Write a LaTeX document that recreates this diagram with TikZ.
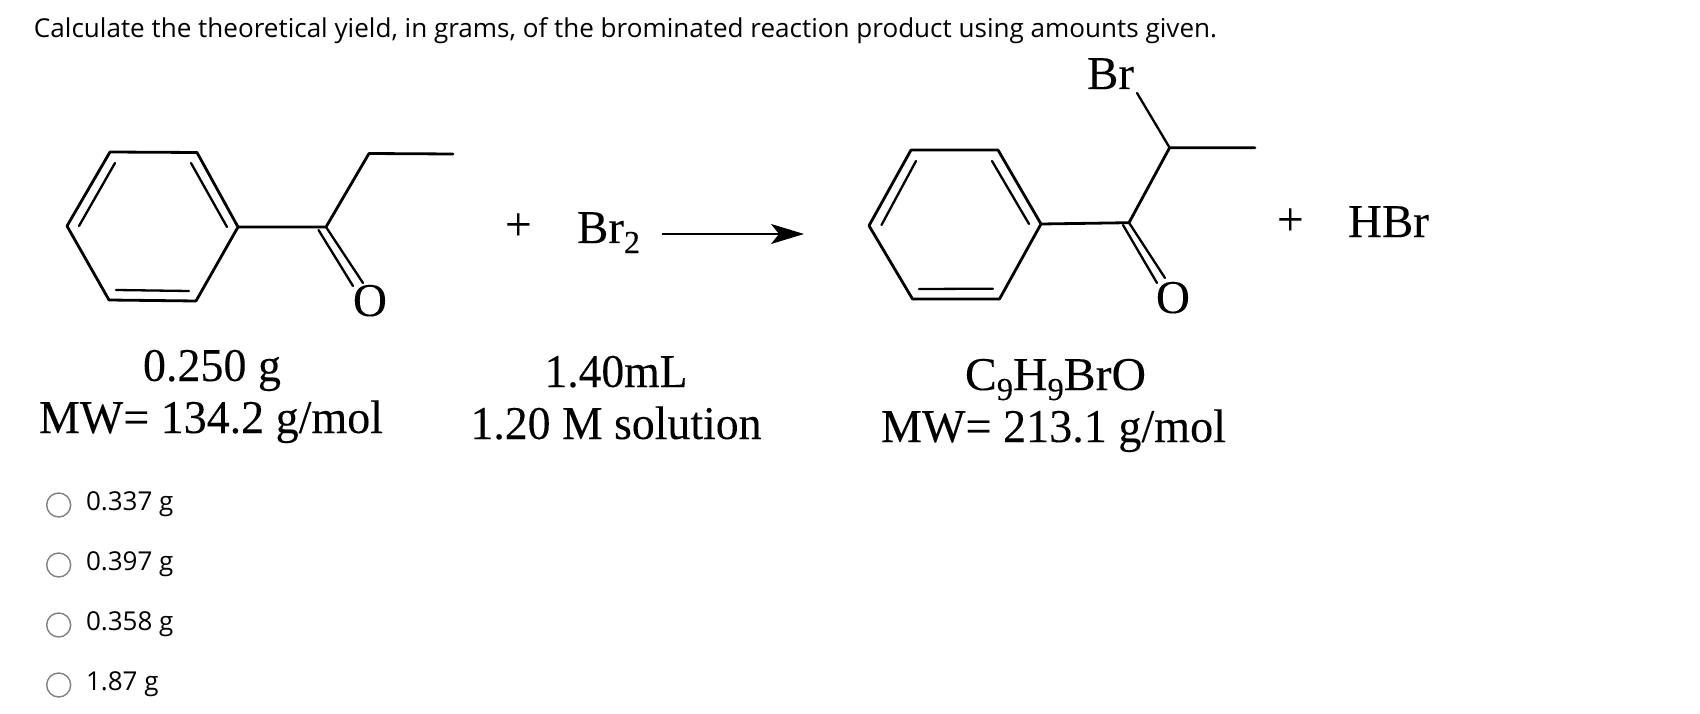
\documentclass[tikz,border=0pt]{standalone}
\usepackage{fontspec}
\usepackage{graphicx}
\usetikzlibrary{arrows.meta}
\setmainfont[FakeBold=0.12]{Liberation Serif}
\newfontfamily\uifont{Open Sans}
\newcommand{\wide}[2]{\resizebox{#1pt}{\height}{#2}}
\newcommand{\subn}[1]{\raisebox{-10pt}{\fontsize{32}{32}\selectfont #1}}
\tikzset{
  serifText/.style={inner sep=0pt,outer sep=0pt,anchor=base west,font=\fontsize{47}{50}\selectfont,text=black},
  uiText/.style={inner sep=0pt,outer sep=0pt,anchor=base west,font=\uifont\fontsize{26}{30}\selectfont,text=black},
  bond/.style={line width=2.8pt,black,line cap=round,line join=round},
  inner bond/.style={line width=2.3pt,black,line cap=round},
  radio/.style={circle,draw=black!50,line width=1.4pt,fill=white,minimum size=24pt,inner sep=0pt},
  rxn arrow/.style={line width=1.6pt,-{Stealth[length=33pt,width=20pt,inset=8pt]}}
}
\begin{document}
\begin{tikzpicture}[x=1pt,y=-1pt]
\useasboundingbox (0,0) rectangle (1700,714);
% question
\node[uiText] (title) at (34,38) {\wide{1183}{Calculate the theoretical yield, in grams, of the brominated reaction product using amounts given.}};
% left molecule
\coordinate (a1) at (67,226); \coordinate (a2) at (110,152); \coordinate (a3) at (197,152.5);
\coordinate (a4) at (238,227); \coordinate (a5) at (196,301); \coordinate (a6) at (109,300);
\coordinate (ac) at (326,227); \coordinate (ach) at (369,153.5); \coordinate (ame) at (453,154);
\draw[bond] (a1)--(a2)--(a3)--(a4)--(a5)--(a6)--cycle;
\draw[bond] (a4)--(ac)--(ach)--(ame);
\coordinate (ai1a) at (115,163); \coordinate (ai1b) at (79,226);
\coordinate (ai2a) at (191,163); \coordinate (ai2b) at (227,227);
\coordinate (ai3a) at (116,290); \coordinate (ai3b) at (189,291);
\draw[inner bond] (ai1a)--(ai1b) (ai2a)--(ai2b) (ai3a)--(ai3b);
\node[serifText] (aO) at (353,316) {O};
\coordinate (ad1) at (363,283); \coordinate (ad2a) at (318.5,230); \coordinate (ad2b) at (353,286);
\draw[inner bond] (ac)--(ad1) (ad2a)--(ad2b);
% reagent
\node[serifText] (plusA) at (505,240) {+};
\node[serifText] (brtwo) at (577,243) {Br\subn{2}};
\coordinate (arrS) at (662,234); \coordinate (arrE) at (804,234);
\draw[rxn arrow] (arrS)--(arrE);
% right molecule
\coordinate (b1) at (869,225.7); \coordinate (b2) at (911,150); \coordinate (b3) at (998,150);
\coordinate (b4) at (1041,224); \coordinate (b5) at (999.5,299); \coordinate (b6) at (912.5,299);
\coordinate (bc) at (1129,222.7); \coordinate (bch) at (1169.6,147.7); \coordinate (bme) at (1255,147.7);
\coordinate (bbr) at (1137,93);
\draw[bond] (b1)--(b2)--(b3)--(b4)--(b5)--(b6)--cycle;
\draw[bond] (b4)--(bc)--(bch)--(bme);
\draw[inner bond] (bch)--(bbr);
\coordinate (bi1a) at (916,161); \coordinate (bi1b) at (881.5,225);
\coordinate (bi2a) at (992,161); \coordinate (bi2b) at (1029,224);
\coordinate (bi3a) at (919,289); \coordinate (bi3b) at (993,288.7);
\draw[inner bond] (bi1a)--(bi1b) (bi2a)--(bi2b) (bi3a)--(bi3b);
\coordinate (bd1) at (1165,278); \coordinate (bd2a) at (1123,225); \coordinate (bd2b) at (1157,283);
\draw[inner bond] (bc)--(bd1) (bd2a)--(bd2b);
\node[serifText] (bO) at (1156,313) {O};
\node[serifText] (bBr) at (1087,89) {Br};
\node[serifText] (plusB) at (1277,235) {+};
\node[serifText] (hbr) at (1348,237) {HBr};
% data labels
\node[serifText] (d1) at (143,381) {\wide{138}{0.250 g}};
\node[serifText] (d2) at (39,433) {\wide{344}{MW= 134.2 g/mol}};
\node[serifText] (d3) at (544.5,387) {\wide{143}{1.40mL}};
\node[serifText] (d4) at (470.5,439) {\wide{291}{1.20 M solution}};
\node[serifText] (d5) at (965,390) {\wide{181}{C\subn{9}H\subn{9}BrO}};
\node[serifText] (d6) at (881,442) {\wide{345}{MW= 213.1 g/mol}};
% choices
\node[radio] (r1) at (58.7,505) {};
\node[radio] (r2) at (58.7,565) {};
\node[radio] (r3) at (58.7,625) {};
\node[radio] (r4) at (58.7,685) {};
\node[uiText] (c1) at (86,510) {0.337 g};
\node[uiText] (c2) at (86,570) {0.397 g};
\node[uiText] (c3) at (86,630) {0.358 g};
\node[uiText] (c4) at (86,690) {1.87 g};
\end{tikzpicture}
\end{document}
